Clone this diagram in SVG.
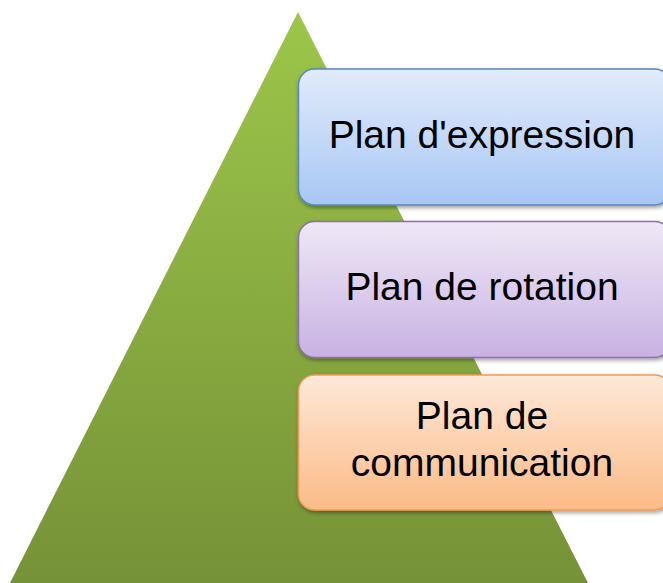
<svg xmlns="http://www.w3.org/2000/svg" width="663" height="583" viewBox="0 0 663 583">
<defs>
<linearGradient id="gTri" x1="0" y1="0" x2="0" y2="1">
<stop offset="0" stop-color="#9cc64a"/>
<stop offset="1" stop-color="#769237"/>
</linearGradient>
<linearGradient id="gBlue" x1="0" y1="0" x2="0" y2="1">
<stop offset="0" stop-color="#e1ebfb"/>
<stop offset="1" stop-color="#a7c7f4"/>
</linearGradient>
<linearGradient id="gPurple" x1="0" y1="0" x2="0" y2="1">
<stop offset="0" stop-color="#efe8f6"/>
<stop offset="1" stop-color="#c8b2e2"/>
</linearGradient>
<linearGradient id="gOrange" x1="0" y1="0" x2="0" y2="1">
<stop offset="0" stop-color="#fee8d9"/>
<stop offset="1" stop-color="#fbbb86"/>
</linearGradient>
<filter id="sh" x="-5%" y="-5%" width="115%" height="120%">
<feGaussianBlur in="SourceAlpha" stdDeviation="2"/>
<feOffset dx="1" dy="2" result="b"/>
<feComponentTransfer><feFuncA type="linear" slope="0.4"/></feComponentTransfer>
<feMerge><feMergeNode/><feMergeNode in="SourceGraphic"/></feMerge>
</filter>
</defs>
<style>
.box{stroke-width:1.5;filter:url(#sh)}
.lbl{font-family:"Liberation Sans",Arial,sans-serif;font-size:39px;fill:#000;text-anchor:middle}
</style>
<rect width="663" height="583" fill="#ffffff"/>
<g id="pyramid">
<polygon points="298,12 588,583 10,583" fill="url(#gTri)"/>
</g>
<g id="connectors"></g>
<g id="node-expression">
<rect class="box" x="298.5" y="69" width="372" height="136" rx="16" fill="url(#gBlue)" stroke="#5a86c0"/>
<text class="lbl" x="482" y="148">Plan d'expression</text>
</g>
<g id="node-rotation">
<rect class="box" x="298.5" y="221.5" width="372" height="136" rx="16" fill="url(#gPurple)" stroke="#8b6fae"/>
<text class="lbl" x="482" y="300">Plan de rotation</text>
</g>
<g id="node-communication">
<rect class="box" x="298.5" y="375" width="372" height="135" rx="16" fill="url(#gOrange)" stroke="#f29a54"/>
<text class="lbl" x="482" y="429">Plan de</text>
<text class="lbl" x="482" y="476">communication</text>
</g>
</svg>
